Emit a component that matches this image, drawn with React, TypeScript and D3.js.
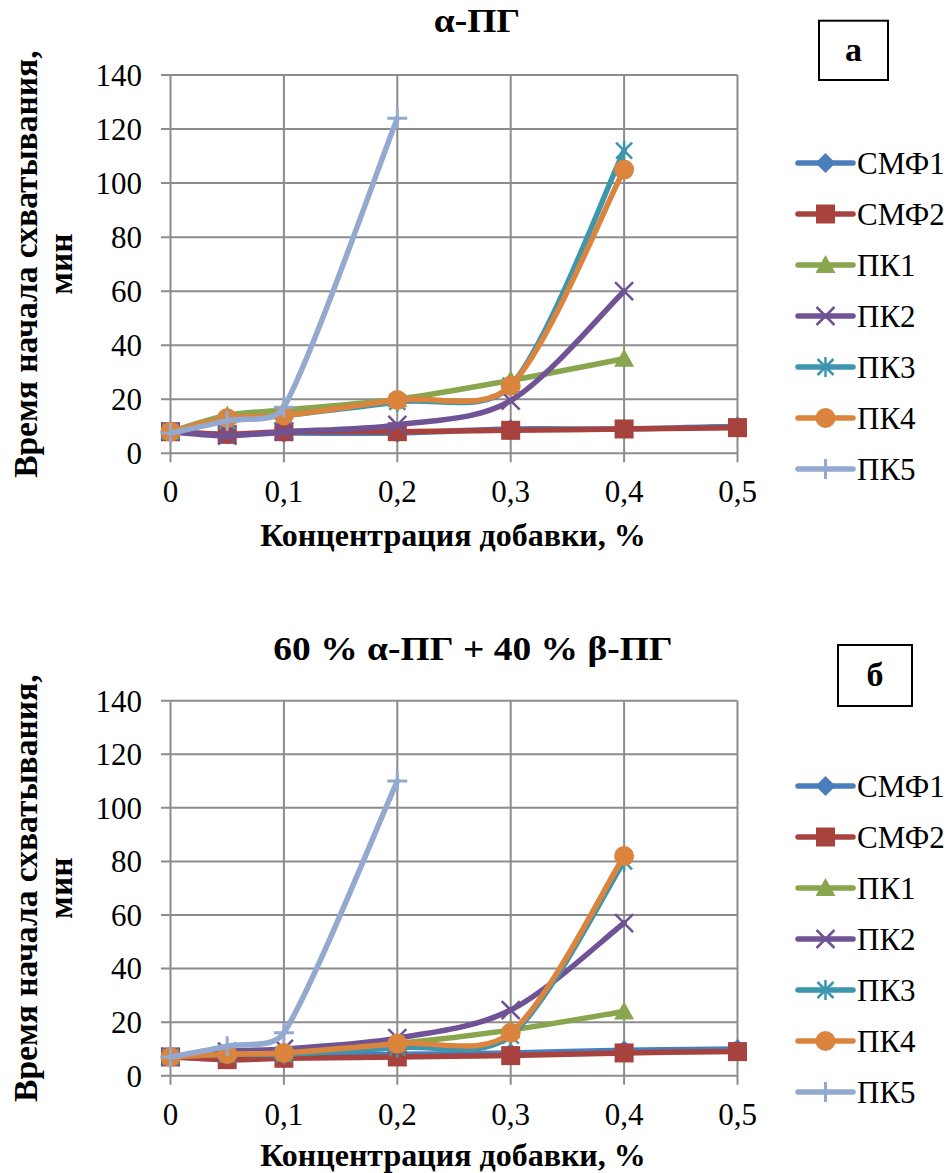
import React from "react";
import * as d3 from "d3";

// Additive concentration, % (shared x positions of every series)
const concentration = [0, 0.05, 0.1, 0.2, 0.3, 0.4, 0.5];

const seriesNames = ["СМФ1", "СМФ2", "ПК1", "ПК2", "ПК3", "ПК4", "ПК5"];
const seriesColors = ["#4A7EBB", "#A8423F", "#89A54E", "#6F5394", "#3D96AE", "#DB843D", "#93A9CF"];
const seriesMarkers = ["diamond", "square", "triangle", "cross", "star", "circle", "plus"];

// Setting start time, min — α-ПГ
const alphaSMF1 = [8, 7, 7.5, 7.5, 9, 9, 10];
const alphaSMF2 = [8, 7, 8, 8, 8.5, 9, 9.5];
const alphaPK1 = [8, 14, 16, 20, 27, 35];
const alphaPK2 = [8, 6.5, 8, 10.5, 19.5, 60];
const alphaPK3 = [8, 12, 14, 19, 25, 112];
const alphaPK4 = [8, 13, 14, 19.7, 25, 105];
const alphaPK5 = [7.5, 12, 17, 124];

// Setting start time, min — 60 % α-ПГ + 40 % β-ПГ
const mixSMF1 = [7, 7, 7.5, 8, 8.5, 9.5, 10];
const mixSMF2 = [7, 6, 6.5, 7, 7.5, 8.5, 9];
const mixPK1 = [7, 9, 9, 12, 17, 24];
const mixPK2 = [7, 9, 10, 14, 24.5, 57];
const mixPK3 = [7, 8, 8, 10.5, 15, 80];
const mixPK4 = [7, 8, 8.5, 12, 16, 82];
const mixPK5 = [7, 11, 16, 110];

const yTicks = [0, 20, 40, 60, 80, 100, 120, 140];
const xTicks = [0, 0.1, 0.2, 0.3, 0.4, 0.5];
const xTickLabels = ["0", "0,1", "0,2", "0,3", "0,4", "0,5"];

const yTitle1 = "Время начала схватывания,";
const yTitle2 = "мин";
const xTitle = "Концентрация добавки, %";

const FONT = "'Liberation Serif', 'Times New Roman', serif";
const GRID = "#8c8c8c";

// Smoothed polyline: the tangent at each vertex follows the chord between its
// neighbours (|chord| / 6), and each arm is capped at a third of its segment.
function smoothPath(pts: [number, number][]): string {
  const p = d3.path();
  const n = pts.length;
  if (n === 0) return "";
  const dist = (a: [number, number], b: [number, number]) => Math.hypot(b[0] - a[0], b[1] - a[1]);
  const ctrl = pts.map((_, i) => {
    const a = pts[Math.max(0, i - 1)];
    const b = pts[Math.min(n - 1, i + 1)];
    const dx = b[0] - a[0];
    const dy = b[1] - a[1];
    const len = Math.hypot(dx, dy) || 1;
    const base = len / 6;
    const inArm = i > 0 ? Math.min(base, dist(pts[i - 1], pts[i]) / 3) : 0;
    const outArm = i < n - 1 ? Math.min(base, dist(pts[i], pts[i + 1]) / 3) : 0;
    return { ux: dx / len, uy: dy / len, inArm, outArm };
  });
  p.moveTo(pts[0][0], pts[0][1]);
  for (let i = 0; i < n - 1; i++) {
    const a = pts[i];
    const b = pts[i + 1];
    const ca = ctrl[i];
    const cb = ctrl[i + 1];
    p.bezierCurveTo(
      a[0] + ca.ux * ca.outArm,
      a[1] + ca.uy * ca.outArm,
      b[0] - cb.ux * cb.inArm,
      b[1] - cb.uy * cb.inArm,
      b[0],
      b[1]
    );
  }
  return p.toString();
}

function Marker({ type, x, y, color }: { type: string; x: number; y: number; color: string }) {
  const s = 10;
  switch (type) {
    case "diamond":
      return <path d={`M${x},${y - s}L${x + s},${y}L${x},${y + s}L${x - s},${y}Z`} fill={color} />;
    case "square":
      return <rect x={x - 9.5} y={y - 9.5} width={19} height={19} fill={color} />;
    case "triangle":
      return <path d={`M${x},${y - 10}L${x + 10},${y + 8}L${x - 10},${y + 8}Z`} fill={color} />;
    case "cross":
      return (
        <path d={`M${x - 9},${y - 9}L${x + 9},${y + 9}M${x - 9},${y + 9}L${x + 9},${y - 9}`} stroke={color} strokeWidth={2.5} fill="none" />
      );
    case "star":
      return (
        <path
          d={`M${x - 8},${y - 8}L${x + 8},${y + 8}M${x - 8},${y + 8}L${x + 8},${y - 8}M${x},${y - 10}L${x},${y + 10}`}
          stroke={color}
          strokeWidth={2.5}
          fill="none"
        />
      );
    case "circle":
      return <circle cx={x} cy={y} r={10} fill={color} />;
    case "plus":
    default:
      return (
        <path d={`M${x - 10},${y}L${x + 10},${y}M${x},${y - 10}L${x},${y + 10}`} stroke={color} strokeWidth={3} fill="none" />
      );
  }
}

type ChartProps = {
  yTop: number;
  yBottom: number;
  title: string;
  titleX: number;
  titleY: number;
  xTitleOffset: number;
  letter: string;
  box: { x: number; y: number; w: number; h: number };
  legendTop: number;
  series: number[][];
};

function Chart({ yTop, yBottom, title, titleX, titleY, xTitleOffset, letter, box, legendTop, series }: ChartProps) {
  const x = d3.scaleLinear().domain([0, 0.5]).range([170.5, 737.5]);
  const y = d3.scaleLinear().domain([0, 140]).range([yBottom, yTop]);

  const midY = (yTop + yBottom) / 2;

  return (
    <g>
      {/* grid */}
      {yTicks.map((t) => (
        <line key={`h${t}`} x1={161} x2={x(0.5)} y1={y(t)} y2={y(t)} stroke={GRID} strokeWidth={2} />
      ))}
      {xTicks.map((t) => (
        <line key={`v${t}`} x1={x(t)} x2={x(t)} y1={y(140)} y2={y(0) + 9} stroke={GRID} strokeWidth={2} />
      ))}

      {/* tick labels */}
      {yTicks.map((t) => (
        <text key={`yl${t}`} x={142} y={y(t)} dy="0.35em" textAnchor="end" fontFamily={FONT} fontSize={31}>
          {t}
        </text>
      ))}
      {xTicks.map((t, i) => (
        <text key={`xl${t}`} x={x(t)} y={y(0) + 49} textAnchor="middle" fontFamily={FONT} fontSize={31}>
          {xTickLabels[i]}
        </text>
      ))}

      {/* series */}
      {series.map((vals, si) => {
        const pts: [number, number][] = vals.map((v, i) => [x(concentration[i]), y(v)]);
        return (
          <g key={seriesNames[si]}>
            <path d={smoothPath(pts)} fill="none" stroke={seriesColors[si]} strokeWidth={5.5} strokeLinecap="round" strokeLinejoin="round" />
            {pts.map((p, i) => (
              <Marker key={i} type={seriesMarkers[si]} x={p[0]} y={p[1]} color={seriesColors[si]} />
            ))}
          </g>
        );
      })}

      {/* titles */}
      <text
        transform={`translate(${titleX},${titleY}) scale(1.12,1)`}
        textAnchor="middle"
        fontFamily={FONT}
        fontSize={33.5}
        fontWeight="bold"
      >
        {title}
      </text>
      <text x={453} y={yBottom + xTitleOffset} textAnchor="middle" fontFamily={FONT} fontSize={32} fontWeight="bold">
        {xTitle}
      </text>
      <text transform={`translate(37,${midY}) rotate(-90)`} textAnchor="middle" fontFamily={FONT} fontSize={33.5} fontWeight="bold">
        {yTitle1}
      </text>
      <text transform={`translate(72,${midY}) rotate(-90)`} textAnchor="middle" fontFamily={FONT} fontSize={33.5} fontWeight="bold">
        {yTitle2}
      </text>

      {/* panel letter */}
      <rect x={box.x} y={box.y} width={box.w} height={box.h} fill="none" stroke="#000" strokeWidth={2} />
      <text x={box.x + box.w / 2} y={box.y + box.h / 2} dy="0.32em" textAnchor="middle" fontFamily={FONT} fontSize={34} fontWeight="bold">
        {letter}
      </text>

      {/* legend */}
      {seriesNames.map((name, i) => {
        const ly = legendTop + i * 51;
        return (
          <g key={`lg${name}`}>
            <line x1={798} x2={853} y1={ly} y2={ly} stroke={seriesColors[i]} strokeWidth={5.5} strokeLinecap="round" />
            <Marker type={seriesMarkers[i]} x={825.5} y={ly} color={seriesColors[i]} />
            <text x={857} y={ly} dy="0.35em" fontFamily={FONT} fontSize={31}>
              {name}
            </text>
          </g>
        );
      })}
    </g>
  );
}

export default function App() {
  return (
    <svg width={950} height={1173} style={{ position: "absolute", left: 0, top: 0, background: "#fff" }}>
      <rect width={950} height={1173} fill="#fff" />
      <Chart
        yTop={75}
        yBottom={453.3}
        title="α-ПГ"
        titleX={477}
        titleY={31.5}
        xTitleOffset={93}
        letter="а"
        box={{ x: 819, y: 20.7, w: 69, h: 59.3 }}
        legendTop={163}
        series={[alphaSMF1, alphaSMF2, alphaPK1, alphaPK2, alphaPK3, alphaPK4, alphaPK5]}
      />
      <Chart
        yTop={700.7}
        yBottom={1075.7}
        title="60 % α-ПГ + 40 % β-ПГ"
        titleX={473}
        titleY={659.5}
        xTitleOffset={90}
        letter="б"
        box={{ x: 838, y: 645, w: 74, h: 61 }}
        legendTop={786}
        series={[mixSMF1, mixSMF2, mixPK1, mixPK2, mixPK3, mixPK4, mixPK5]}
      />
    </svg>
  );
}
